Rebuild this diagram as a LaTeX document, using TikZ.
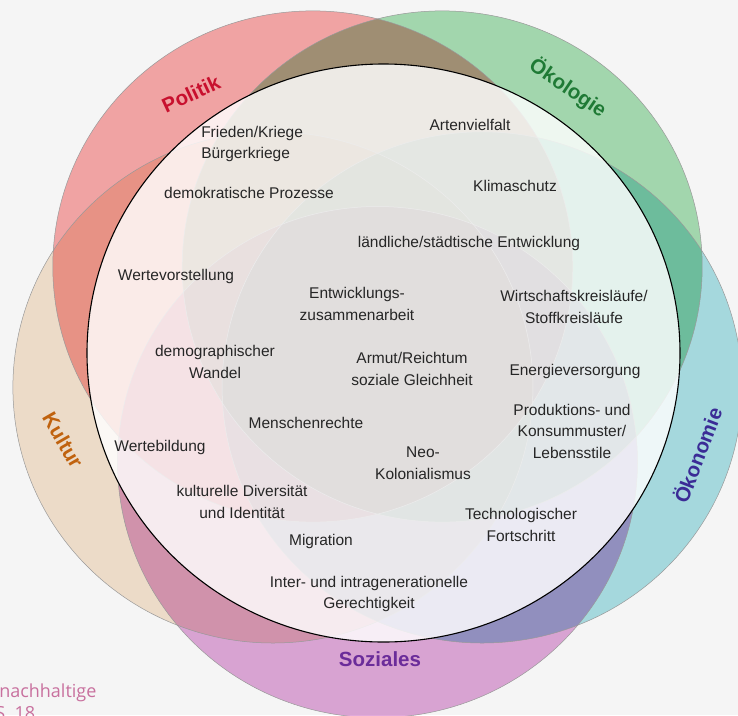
\documentclass[tikz,border=0pt]{standalone}
\usepackage{fontspec}
\setmainfont{Liberation Sans}
\newfontfamily\srcfont{Open Sans}
\definecolor{bgc}{RGB}{245,245,245}
\definecolor{polc}{RGB}{250,170,170}
\definecolor{oekoc}{RGB}{169,223,181}
\definecolor{oekonc}{RGB}{172,225,231}
\definecolor{sozc}{RGB}{225,170,219}
\definecolor{kulc}{RGB}{246,228,209}
\definecolor{polt}{RGB}{200,16,46}
\definecolor{oekot}{RGB}{31,122,53}
\definecolor{oekont}{RGB}{59,44,150}
\definecolor{kult}{RGB}{192,98,14}
\definecolor{sozt}{RGB}{107,44,154}
\definecolor{srct}{RGB}{200,112,158}
\begin{document}
\begin{tikzpicture}[x=1pt,y=-1pt,
  item/.style={font=\fontsize{15.5}{21.5}\selectfont, align=center, inner sep=0pt, text=black!85},
  lab/.style={font=\fontsize{20.5}{24}\selectfont\bfseries, inner sep=0pt},
  ring/.style={blend mode=multiply}]
\fill[bgc] (0,0) rectangle (738,715);
\useasboundingbox (0,0) rectangle (738,715);
\clip (0,0) rectangle (738,715);
% outer circles (filled, multiplied)
\fill[ring, kulc]  (272.9,387.4) ellipse [x radius=260, y radius=255.6];
\fill[ring, sozc]  (377.5,462.1) ellipse [x radius=260, y radius=255.6];
\fill[ring, polc]  (312.8,266.5) ellipse [x radius=260, y radius=255.6];
\fill[ring, oekoc] (442.2,266.5) ellipse [x radius=260, y radius=255.6];
\fill[ring, oekonc](482.1,387.4) ellipse [x radius=260, y radius=255.6];
% outlines
\begin{scope}[blend mode=normal, draw=black!40, line width=0.5pt]
\draw (272.9,387.4) ellipse [x radius=260, y radius=255.6];
\draw (377.5,462.1) ellipse [x radius=260, y radius=255.6];
\draw (312.8,266.5) ellipse [x radius=260, y radius=255.6];
\draw (442.2,266.5) ellipse [x radius=260, y radius=255.6];
\draw (482.1,387.4) ellipse [x radius=260, y radius=255.6];
% inner circle
\fill[white, fill opacity=0.82] (383.5,353) ellipse [x radius=296.5, y radius=289];
\draw[black, line width=1.1pt] (383.5,353) ellipse [x radius=296.5, y radius=289];
% ring labels
\node[lab, text=polt, rotate=25]   (pol)  at (191,94)  {Politik};
\node[lab, text=oekot, rotate=-34] (oeko) at (568,88)  {Ökologie};
\node[lab, text=oekont, rotate=69] (oekon) at (697,455) {Ökonomie};
\node[lab, text=kult, rotate=-60]  (kul)  at (63,440)  {Kultur};
\node[lab, text=sozt]              (soz)  at (380,659) {Soziales};
% items
\node[item, anchor=west, align=left] (t1) at (201,144) {Frieden/Kriege\\Bürgerkriege};
\node[item] (t2) at (249,193) {demokratische Prozesse};
\node[item] (t3) at (470,125) {Artenvielfalt};
\node[item] (t4) at (515,186) {Klimaschutz};
\node[item] (t5) at (469,243) {ländliche/städtische Entwicklung};
\node[item] (t6) at (176,276) {Wertevorstellung};
\node[item] (t7) at (357,304) {Entwicklungs-\\zusammenarbeit};
\node[item] (t8) at (574,307) {Wirtschaftskreisläufe/\\Stoffkreisläufe};
\node[item] (t9) at (215,362) {demographischer\\Wandel};
\node[item] (t10) at (412,369) {Armut/Reichtum\\soziale Gleichheit};
\node[item] (t11) at (575,371) {Energieversorgung};
\node[item] (t12) at (306,423) {Menschenrechte};
\node[item] (t13) at (572,431) {Produktions- und\\Konsummuster/\\Lebensstile};
\node[item] (t14) at (160,447) {Wertebildung};
\node[item] (t15) at (423,463) {Neo-\\Kolonialismus};
\node[item] (t16) at (242,502) {kulturelle Diversität\\und Identität};
\node[item] (t17) at (521,525) {Technologischer\\Fortschritt};
\node[item] (t18) at (321,541) {Migration};
\node[item] (t19) at (369,594) {Inter- und intragenerationelle\\Gerechtigkeit};
% source text (cut)
\node[font=\srcfont\fontsize{18}{22}\selectfont, text=srct, anchor=base west, inner sep=0pt] (s1) at (-1,697) {nachhaltige};
\node[font=\srcfont\fontsize{18}{22}\selectfont, text=srct, anchor=base west, inner sep=0pt] (s2) at (-5,719) {S. 18};
\end{scope}
\end{tikzpicture}
\end{document}
